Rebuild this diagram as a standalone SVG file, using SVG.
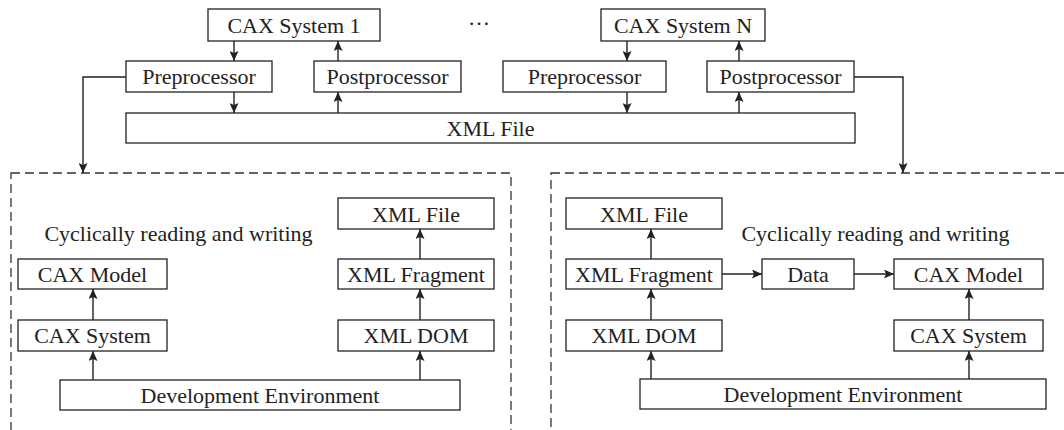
<svg xmlns="http://www.w3.org/2000/svg" width="1064" height="430" viewBox="0 0 1064 430">
<style>
.box{fill:#fff;stroke:#222;stroke-width:1.3}
.t{font-family:"Liberation Serif","Times New Roman",serif;font-size:22px;fill:#222;text-anchor:middle}
.c{fill:none;stroke:#222;stroke-width:1.4}
.d{fill:none;stroke:#333;stroke-width:1.3;stroke-dasharray:9,5}
</style>
<defs>
<marker id="ah" viewBox="0 0 10 10" refX="10" refY="5" markerWidth="10" markerHeight="9" markerUnits="userSpaceOnUse" orient="auto" preserveAspectRatio="none">
<path d="M0,0 L10,5 L0,10 L2,5 z" fill="#222"/>
</marker>
</defs>
<rect width="1064" height="430" fill="#fff"/>
<g id="panels">
<rect id="panel-left" class="d" x="11" y="173" width="500" height="280"/>
<rect id="panel-right" class="d" x="551" y="173" width="540" height="280"/>
</g>
<g id="connectors">
<line class="c" x1="234" y1="41" x2="234" y2="61" marker-end="url(#ah)"/>
<line class="c" x1="338" y1="61" x2="338" y2="41" marker-end="url(#ah)"/>
<line class="c" x1="627" y1="41" x2="627" y2="61" marker-end="url(#ah)"/>
<line class="c" x1="739" y1="61" x2="739" y2="41" marker-end="url(#ah)"/>
<line class="c" x1="234" y1="92" x2="234" y2="113" marker-end="url(#ah)"/>
<line class="c" x1="338" y1="113" x2="338" y2="92" marker-end="url(#ah)"/>
<line class="c" x1="627" y1="92" x2="627" y2="113" marker-end="url(#ah)"/>
<line class="c" x1="739" y1="113" x2="739" y2="92" marker-end="url(#ah)"/>
<polyline class="c" points="126,77 83,77 83,173" marker-end="url(#ah)"/>
<polyline class="c" points="854,77 903,77 903,173" marker-end="url(#ah)"/>
<line class="c" x1="93" y1="380" x2="93" y2="351" marker-end="url(#ah)"/>
<line class="c" x1="93" y1="320" x2="93" y2="289" marker-end="url(#ah)"/>
<line class="c" x1="420" y1="380" x2="420" y2="351" marker-end="url(#ah)"/>
<line class="c" x1="420" y1="320" x2="420" y2="289" marker-end="url(#ah)"/>
<line class="c" x1="420" y1="259" x2="420" y2="229" marker-end="url(#ah)"/>
<line class="c" x1="651" y1="379" x2="651" y2="351" marker-end="url(#ah)"/>
<line class="c" x1="651" y1="320" x2="651" y2="289" marker-end="url(#ah)"/>
<line class="c" x1="651" y1="259" x2="651" y2="229" marker-end="url(#ah)"/>
<line class="c" x1="969" y1="379" x2="969" y2="351" marker-end="url(#ah)"/>
<line class="c" x1="969" y1="320" x2="969" y2="289" marker-end="url(#ah)"/>
<line class="c" x1="722" y1="274" x2="762" y2="274" marker-end="url(#ah)"/>
<line class="c" x1="854" y1="274" x2="894" y2="274" marker-end="url(#ah)"/>
</g>
<g id="cax1"><rect class="box" x="208" y="9" width="172" height="32"/><text class="t" x="294" y="32.5">CAX System 1</text></g>
<g id="dots"><text class="t" x="479" y="25">…</text></g>
<g id="caxN"><rect class="box" x="601" y="9" width="164" height="32"/><text class="t" x="683" y="32.5">CAX System N</text></g>
<g id="pre1"><rect class="box" x="126" y="61" width="146" height="31"/><text class="t" x="199" y="84">Preprocessor</text></g>
<g id="post1"><rect class="box" x="314" y="61" width="147" height="31"/><text class="t" x="387.5" y="84">Postprocessor</text></g>
<g id="preN"><rect class="box" x="503" y="61" width="163" height="31"/><text class="t" x="584.5" y="84">Preprocessor</text></g>
<g id="postN"><rect class="box" x="707" y="61" width="147" height="31"/><text class="t" x="780.5" y="84">Postprocessor</text></g>
<g id="xmlfile-top"><rect class="box" x="126" y="113" width="729" height="30"/><text class="t" x="490.5" y="135.5">XML File</text></g>

<g id="l-text"><text class="t" x="178.5" y="241">Cyclically reading and writing</text></g>
<g id="l-xmlfile"><rect class="box" x="338" y="198" width="156" height="31"/><text class="t" x="416" y="221.5">XML File</text></g>
<g id="l-caxmodel"><rect class="box" x="18" y="259" width="149" height="30"/><text class="t" x="92.5" y="281.5">CAX Model</text></g>
<g id="l-xmlfrag"><rect class="box" x="338" y="259" width="156" height="30"/><text class="t" x="416" y="281.5">XML Fragment</text></g>
<g id="l-caxsys"><rect class="box" x="18" y="320" width="149" height="31"/><text class="t" x="92.5" y="343">CAX System</text></g>
<g id="l-xmldom"><rect class="box" x="338" y="320" width="156" height="31"/><text class="t" x="416" y="343">XML DOM</text></g>
<g id="l-dev"><rect class="box" x="60" y="380" width="400" height="30"/><text class="t" x="260" y="402.5">Development Environment</text></g>

<g id="r-text"><text class="t" x="875.5" y="241">Cyclically reading and writing</text></g>
<g id="r-xmlfile"><rect class="box" x="566" y="198" width="156" height="31"/><text class="t" x="644" y="221.5">XML File</text></g>
<g id="r-xmlfrag"><rect class="box" x="566" y="259" width="156" height="30"/><text class="t" x="644" y="281.5">XML Fragment</text></g>
<g id="r-data"><rect class="box" x="762" y="259" width="92" height="30"/><text class="t" x="808" y="282">Data</text></g>
<g id="r-caxmodel"><rect class="box" x="894" y="259" width="149" height="30"/><text class="t" x="968.5" y="281.5">CAX Model</text></g>
<g id="r-xmldom"><rect class="box" x="566" y="320" width="156" height="31"/><text class="t" x="644" y="343">XML DOM</text></g>
<g id="r-caxsys"><rect class="box" x="894" y="320" width="149" height="31"/><text class="t" x="968.5" y="343">CAX System</text></g>
<g id="r-dev"><rect class="box" x="640" y="379" width="406" height="30"/><text class="t" x="843" y="401.5">Development Environment</text></g>
</svg>
